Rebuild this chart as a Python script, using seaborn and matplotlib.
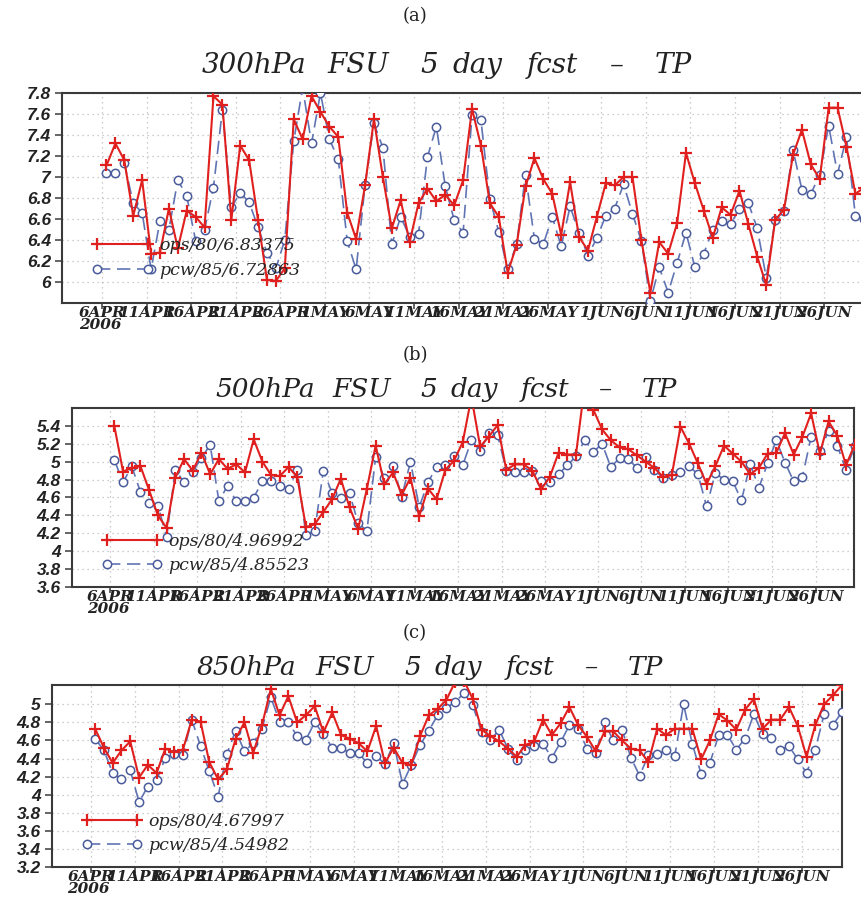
import numpy as np
import pandas as pd
import matplotlib
matplotlib.use("Agg")
import matplotlib.pyplot as plt
import seaborn as sns

sns.set_theme(style="white")
plt.rcParams['font.family'] = ['DejaVu Serif', 'DejaVu Sans']

# ---------------- data (daily, 6 APR 2006 .. 30 JUN 2006) ----------------
days = list(range(86))

tick_days = [0, 5, 10, 15, 20, 25, 30, 35, 40, 45, 50, 56, 61, 66, 71, 76, 81]
tick_labels = ["6APR\n2006", "11APR", "16APR", "21APR", "26APR", "1MAY", "6MAY",
               "11MAY", "16MAY", "21MAY", "26MAY", "1JUN", "6JUN", "11JUN",
               "16JUN", "21JUN", "26JUN"]

ops_300 = [7.11, 7.32, 7.16, 6.63, 6.97, 6.27, 6.28, 6.70, 6.32, 6.68,
           6.62, 6.52, 7.77, 7.69, 6.59, 7.30, 7.16, 6.59, 6.02, 6.01,
           6.13, 7.55, 7.36, 7.77, 7.62, 7.48, 7.38, 6.66, 6.41, 6.92,
           7.55, 7.00, 6.51, 6.78, 6.38, 6.75, 6.89, 6.77, 6.83, 6.73,
           6.97, 7.65, 7.30, 6.75, 6.62, 6.09, 6.35, 6.91, 7.18, 6.98,
           6.84, 6.45, 6.95, 6.43, 6.30, 6.62, 6.94, 6.92, 7.00, 7.00,
           6.40, 5.90, 6.38, 6.27, 6.56, 7.23, 6.94, 6.68, 6.42, 6.71,
           6.64, 6.87, 6.55, 6.24, 5.97, 6.59, 6.69, 7.21, 7.45, 7.12,
           6.98, 7.66, 7.66, 7.29, 6.84, 6.90]
pcw_300 = [7.04, 7.04, 7.13, 6.75, 6.66, 6.12, 6.58, 6.50, 6.97, 6.82,
           6.39, 6.50, 6.90, 7.64, 6.71, 6.85, 6.76, 6.52, 6.28, 6.13,
           6.40, 7.34, 7.85, 7.32, 7.80, 7.36, 7.17, 6.39, 6.12, 6.92,
           7.51, 7.28, 6.36, 6.62, 6.43, 6.46, 7.19, 7.48, 6.91, 6.59,
           6.47, 7.59, 7.54, 6.79, 6.48, 6.12, 6.36, 7.02, 6.41, 6.36,
           6.62, 6.34, 6.72, 6.47, 6.25, 6.42, 6.63, 6.70, 6.93, 6.65,
           6.39, 5.82, 6.14, 5.90, 6.18, 6.47, 6.14, 6.27, 6.50, 6.58,
           6.55, 6.70, 6.75, 6.51, 6.04, 6.59, 6.68, 7.26, 6.88, 6.84,
           7.02, 7.49, 7.03, 7.38, 6.63, 6.60]

ops_500 = [5.40, 4.89, 4.93, 4.95, 4.68, 4.40, 4.26, 4.82, 5.03, 4.90,
           5.10, 4.86, 5.03, 4.92, 4.97, 4.88, 5.25, 5.00, 4.85, 4.84,
           4.94, 4.83, 4.27, 4.30, 4.44, 4.58, 4.81, 4.49, 4.25, 4.70,
           5.18, 4.75, 4.88, 4.63, 4.82, 4.39, 4.70, 4.58, 4.91, 5.01,
           5.22, 5.72, 5.17, 5.28, 5.41, 4.91, 4.97, 4.97, 4.90, 4.69,
           4.83, 5.10, 5.08, 5.08, 5.85, 5.58, 5.36, 5.24, 5.16, 5.14,
           5.07, 5.00, 4.93, 4.83, 4.85, 5.39, 5.20, 4.98, 4.75, 4.95,
           5.18, 5.09, 5.00, 4.86, 4.93, 5.09, 5.10, 5.32, 5.08, 5.28,
           5.54, 5.09, 5.45, 5.29, 4.96, 5.19]
pcw_500 = [5.02, 4.77, 4.95, 4.66, 4.54, 4.51, 4.16, 4.91, 4.77, 4.89,
           5.04, 5.19, 4.56, 4.73, 4.56, 4.56, 4.60, 4.78, 4.78, 4.73,
           4.70, 4.91, 4.18, 4.23, 4.90, 4.65, 4.60, 4.65, 4.31, 4.23,
           5.05, 4.82, 4.95, 4.61, 5.00, 4.49, 4.77, 4.94, 4.96, 5.06,
           4.96, 5.24, 5.12, 5.32, 5.30, 4.90, 4.88, 4.88, 4.90, 4.78,
           4.77, 4.86, 4.96, 5.06, 5.24, 5.11, 5.20, 4.94, 5.04, 5.03,
           4.93, 5.05, 4.91, 4.82, 4.85, 4.88, 4.95, 4.86, 4.50, 4.87,
           4.80, 4.78, 4.57, 4.97, 4.71, 4.98, 5.24, 4.99, 4.78, 4.83,
           5.28, 5.12, 5.34, 5.18, 4.91, 5.17]

ops_850 = [4.73, 4.52, 4.35, 4.49, 4.59, 4.19, 4.33, 4.24, 4.51, 4.47,
           4.50, 4.83, 4.81, 4.36, 4.17, 4.28, 4.62, 4.80, 4.46, 4.77,
           5.17, 4.88, 5.09, 4.80, 4.88, 4.98, 4.69, 4.91, 4.66, 4.62,
           4.57, 4.48, 4.76, 4.35, 4.52, 4.35, 4.33, 4.65, 4.88, 4.95,
           5.05, 5.25, 5.26, 5.06, 4.72, 4.65, 4.59, 4.51, 4.42, 4.55,
           4.59, 4.83, 4.66, 4.79, 4.97, 4.77, 4.64, 4.48, 4.70, 4.70,
           4.60, 4.51, 4.49, 4.36, 4.73, 4.66, 4.73, 4.73, 4.73, 4.39,
           4.60, 4.89, 4.82, 4.72, 4.94, 5.06, 4.73, 4.83, 4.83, 4.97,
           4.76, 4.42, 4.77, 5.00, 5.10, 5.21]
pcw_850 = [4.62, 4.49, 4.24, 4.17, 4.27, 3.92, 4.09, 4.16, 4.41, 4.45,
           4.44, 4.83, 4.54, 4.26, 3.98, 4.45, 4.71, 4.48, 4.57, 4.73,
           5.08, 4.81, 4.80, 4.65, 4.61, 4.80, 4.67, 4.52, 4.52, 4.46,
           4.46, 4.35, 4.43, 4.34, 4.57, 4.12, 4.33, 4.55, 4.71, 4.88,
           4.96, 5.03, 5.12, 4.99, 4.69, 4.60, 4.72, 4.51, 4.38, 4.49,
           4.54, 4.56, 4.41, 4.58, 4.77, 4.73, 4.51, 4.46, 4.80, 4.60,
           4.72, 4.41, 4.21, 4.44, 4.45, 4.49, 4.43, 5.00, 4.56, 4.23,
           4.35, 4.66, 4.66, 4.50, 4.62, 4.89, 4.67, 4.63, 4.49, 4.54,
           4.39, 4.24, 4.50, 4.89, 4.77, 4.91]

panel_tags = ["(a)", "(b)", "(c)"]
levels = ["300hPa", "500hPa", "850hPa"]
title_words = ["FSU", "5", "day", "fcst", "\u2013", "TP"]
ops_labels = ["ops/80/6.83375", "ops/80/4.96992", "ops/80/4.67997"]
pcw_labels = ["pcw/85/6.72863", "pcw/85/4.85523", "pcw/85/4.54982"]
y_ticks = [np.arange(6.0, 7.81, 0.2), np.arange(3.6, 5.41, 0.2), np.arange(3.2, 5.01, 0.2)]

# ---------------- layout (pixels) ----------------
W, H = 861, 899
fig = plt.figure(figsize=(W / 100, H / 100), dpi=100)

# word start offsets (px) of the title, relative to its left end, for a 526 px wide title
word_offsets = [0, 125, 218, 250, 325, 408, 453]

specs = [
    dict(box=(62, 875, 93, 303), ylim=(5.8, 7.8), xlim=(-4.49, 86.7),
         tag_y=16, title_x=(202, 526), title_base=73, tsize=20, leg_y=0.37),
    dict(box=(72, 854, 408, 587), ylim=(3.6, 5.6), xlim=(-4.36, 85.42),
         tag_y=355, title_x=(215, 495), title_base=397, tsize=19, leg_y=0.37),
    dict(box=(52, 842, 685, 867), ylim=(3.2, 5.214), xlim=(-4.41, 85.54),
         tag_y=633, title_x=(197, 500), title_base=675, tsize=19, leg_y=0.365),
]
series = [(ops_300, pcw_300), (ops_500, pcw_500), (ops_850, pcw_850)]

RED = "#e0201e"
BLUE_LINE = "#6074b4"
BLUE_EDGE = "#4a5b9c"
GRID = "#bdbdbd"
SPINE = "#3a3a3a"
TXT = "#222222"

for i, (sp, (ops, pcw)) in enumerate(zip(specs, series)):
    l, r, t, b = sp["box"]
    ax = fig.add_axes([l / W, 1 - b / H, (r - l) / W, (b - t) / H])
    df = pd.DataFrame({"x": np.array(days) + 0.5, "ops": ops, "pcw": pcw})

    sns.lineplot(data=df, x="x", y="pcw", ax=ax, color=BLUE_LINE, lw=1.2,
                 linestyle=(0, (8, 4)), marker="o", markersize=6.0,
                 markerfacecolor="white", markeredgecolor=BLUE_EDGE,
                 markeredgewidth=1.1, estimator=None, sort=False,
                 label=pcw_labels[i], zorder=3)
    sns.lineplot(data=df, x="x", y="ops", ax=ax, color=RED, lw=1.5,
                 marker="+", markersize=8, markeredgewidth=1.6,
                 markeredgecolor=RED, estimator=None, sort=False,
                 label=ops_labels[i], zorder=4)

    ax.set_xlim(*sp["xlim"])
    ax.set_ylim(*sp["ylim"])
    ax.set_xticks(tick_days)
    ax.set_xticklabels(tick_labels, fontfamily="DejaVu Serif", fontstyle="italic",
                       fontweight="bold", fontsize=11, color=TXT,
                       multialignment="left")
    for lbl in ax.get_xticklabels():
        lbl.set_linespacing(0.8)
    yt = y_ticks[i]
    ax.set_yticks(yt)
    ax.set_yticklabels([f"{v:g}" for v in np.round(yt, 1)],
                       fontfamily="Liberation Sans", fontstyle="italic",
                       fontweight="bold", fontsize=12.5, color=TXT)
    ax.set_xlabel("")
    ax.set_ylabel("")
    ax.grid(True, color=GRID, linestyle=(0, (1, 3)), linewidth=0.9)
    ax.tick_params(axis="x", direction="out", length=4, width=1.1,
                   color=SPINE, bottom=True, pad=-1.5)
    ax.tick_params(axis="y", direction="out", length=5, width=1.1,
                   color=SPINE, left=True, pad=3)
    for s in ax.spines.values():
        s.set_color(SPINE)
        s.set_linewidth(1.5)

    handles, labels = ax.get_legend_handles_labels()
    order = [labels.index(ops_labels[i]), labels.index(pcw_labels[i])]
    ax.legend([handles[k] for k in order], [labels[k] for k in order],
              loc="upper left", bbox_to_anchor=(0.022, sp["leg_y"]),
              frameon=False, numpoints=2, handlelength=3.5,
              handletextpad=0.35, labelspacing=0.42, borderpad=0.2,
              prop=dict(family="DejaVu Serif", style="italic", size=12.5))

    fig.text(415 / W, 1 - sp["tag_y"] / H, panel_tags[i], ha="center", va="center",
             fontfamily="DejaVu Serif", fontsize=13, color=TXT)
    x0, tw = sp["title_x"]
    words = [levels[i]] + title_words
    for off, wd in zip(word_offsets, words):
        fig.text((x0 + off * tw / 526) / W, 1 - sp["title_base"] / H, wd,
                 ha="left", va="baseline", fontfamily="DejaVu Serif",
                 fontstyle="italic", fontsize=sp["tsize"], color=TXT)

fig.savefig("out.png", dpi=100)
